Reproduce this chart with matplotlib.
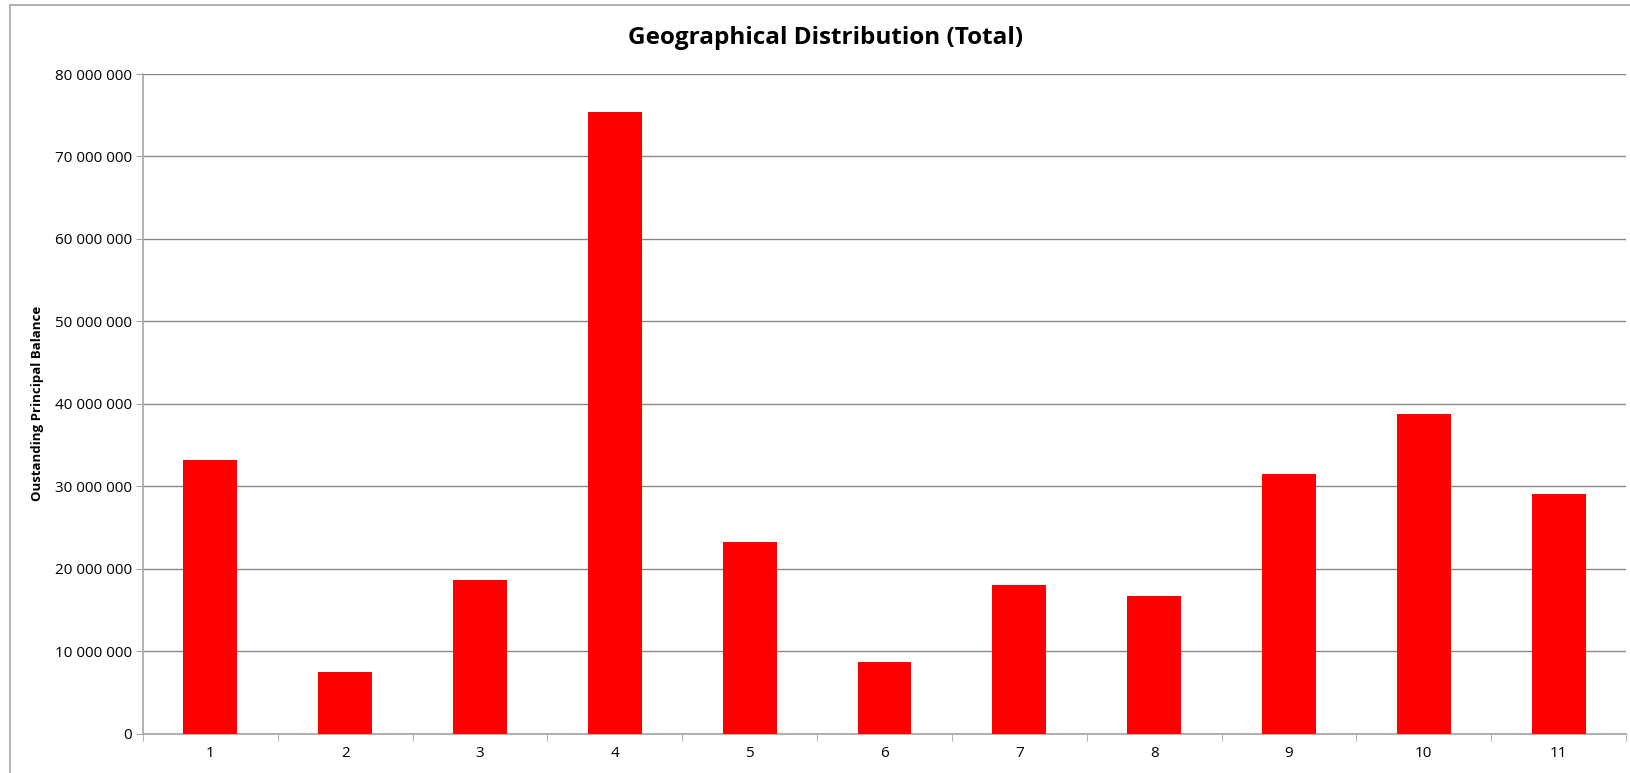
import matplotlib.pyplot as plt
from matplotlib.patches import Rectangle
from matplotlib.ticker import FuncFormatter, FixedLocator
import numpy as np

plt.rcParams['font.family'] = ['Open Sans', 'DejaVu Sans']

regions = ["1", "2", "3", "4", "5", "6", "7", "8", "9", "10", "11"]
balance = [33.2e6, 7.42e6, 18.65e6, 75.45e6, 23.2e6, 8.7e6,
           18.05e6, 16.65e6, 31.5e6, 38.75e6, 29.0e6]

fig = plt.figure(figsize=(16.31, 7.73), dpi=100)
ax = fig.add_axes([143/1631, 39.5/773, 1483/1631, 659.5/773])

# chart frame around everything
fig.patches.append(Rectangle((10/1631, -0.05), 1.1, (773 - 5)/773 + 0.05,
                             transform=fig.transFigure, fill=False,
                             edgecolor='#a6a6a6', linewidth=1.2, zorder=0))

x = np.arange(len(regions))
ax.bar(x, balance, width=0.40, color='#ff0000', zorder=3)

ax.set_xlim(-0.5, len(regions) - 0.5)
ax.set_ylim(0, 80e6)
ax.set_yticks(np.arange(0, 80e6 + 1, 10e6))
ax.yaxis.set_major_formatter(FuncFormatter(lambda v, p: f"{int(v):,}".replace(",", " ")))
ax.grid(axis='y', color='#888888', linewidth=1.0, zorder=0)

ax.set_xticks(x)
ax.set_xticklabels(regions)
ax.xaxis.set_minor_locator(FixedLocator(np.arange(-0.5, len(regions), 1.0)))
ax.tick_params(axis='x', which='major', length=0, pad=9, labelsize=11)
ax.tick_params(axis='x', which='minor', length=5, color='#a6a6a6', direction='out')
ax.tick_params(axis='y', length=5, color='#a6a6a6', pad=3, labelsize=11)

for side in ['top', 'right']:
    ax.spines[side].set_visible(False)
for side in ['left', 'bottom']:
    ax.spines[side].set_color('#a6a6a6')
    ax.spines[side].set_linewidth(1.2)

ax.set_ylabel("Oustanding Principal Balance", fontsize=9.5, fontweight='bold', labelpad=8)
fig.text(826/1631, 1 - 38.5/773, "Geographical Distribution (Total)",
         ha='center', va='center', fontsize=17.5, fontweight='bold')

fig.savefig("out.png", dpi=100)
